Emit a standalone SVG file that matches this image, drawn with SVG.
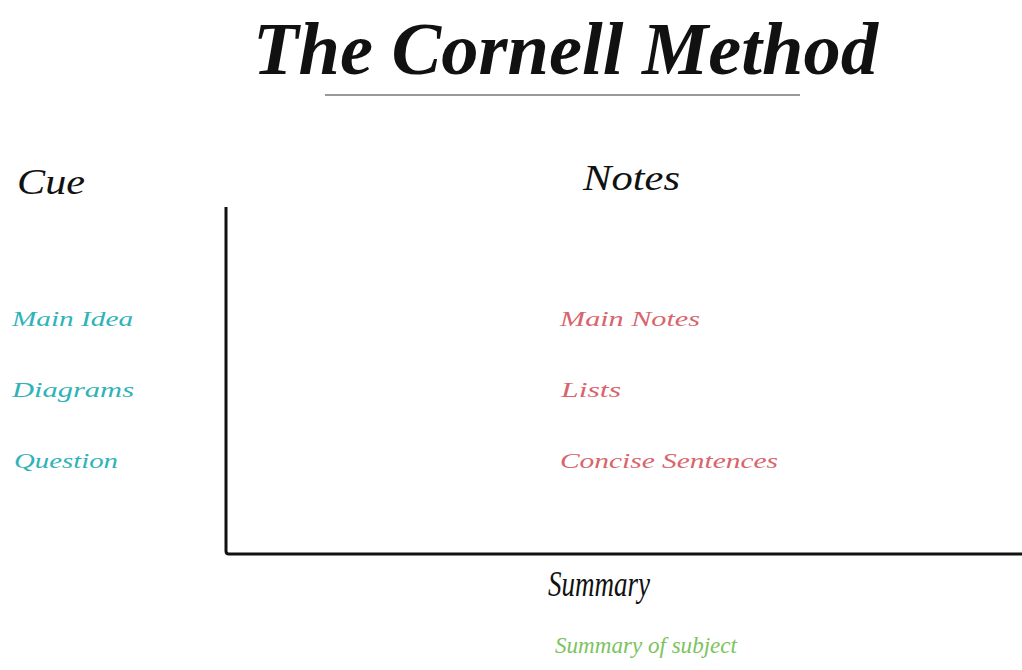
<svg xmlns="http://www.w3.org/2000/svg" width="1022" height="670" viewBox="0 0 1022 670">
<style>
text{font-family:"Liberation Serif","DejaVu Serif",serif;font-style:italic}
.h{fill:#111;font-size:36px}
.cue{fill:#2fb3b8;font-size:22px}
.note{fill:#d9646c;font-size:22px}
.sum{fill:#7cc35e;font-size:24px}
</style>
<rect width="1022" height="670" fill="#fff"/>
<g id="title">
<text x="253" y="74" font-size="74" font-weight="bold" fill="#111" textLength="625" lengthAdjust="spacingAndGlyphs">The Cornell Method</text>
<line x1="325" y1="95" x2="800" y2="95" stroke="#777" stroke-width="1.5"/>
</g>
<g id="cue"><text class="h" x="17" y="194" textLength="68" lengthAdjust="spacingAndGlyphs">Cue</text></g>
<g id="notes"><text class="h" x="583" y="190" textLength="97" lengthAdjust="spacingAndGlyphs">Notes</text></g>
<g id="connectors">
<path d="M226 207 V551 Q226 554 229 554 H1022" fill="none" stroke="#111" stroke-width="3"/>
</g>
<g id="cue-items">
<text class="cue" x="12" y="326" textLength="121" lengthAdjust="spacingAndGlyphs">Main Idea</text>
<text class="cue" x="12" y="397" textLength="122" lengthAdjust="spacingAndGlyphs">Diagrams</text>
<text class="cue" x="14" y="468" textLength="104" lengthAdjust="spacingAndGlyphs">Question</text>
</g>
<g id="note-items">
<text class="note" x="560" y="326" textLength="140" lengthAdjust="spacingAndGlyphs">Main Notes</text>
<text class="note" x="561" y="397" textLength="60" lengthAdjust="spacingAndGlyphs">Lists</text>
<text class="note" x="560" y="468" textLength="218" lengthAdjust="spacingAndGlyphs">Concise Sentences</text>
</g>
<g id="summary"><text class="h" x="548" y="596" font-size="32" textLength="102" lengthAdjust="spacingAndGlyphs">Summary</text></g>
<g id="summary-item"><text class="sum" x="555" y="653" textLength="182" lengthAdjust="spacingAndGlyphs">Summary of subject</text></g>
</svg>
